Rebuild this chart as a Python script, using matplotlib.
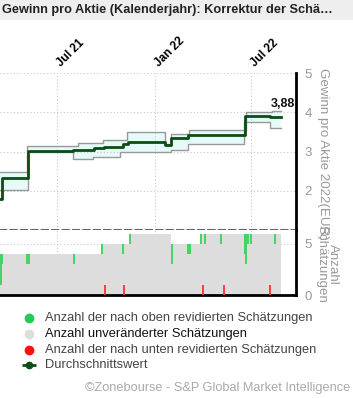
import numpy as np
import matplotlib
matplotlib.use('Agg')
import matplotlib.pyplot as plt
import matplotlib.dates as mdates
import matplotlib.transforms as mtrans
from matplotlib.patches import Rectangle

plt.rcParams['font.family'] = ['Liberation Sans', 'DejaVu Sans']

# EPS estimate 2022 (EUR): mean, high, low (change points)
avg_dates = ['2021-03-16', '2021-03-19', '2021-05-07', '2021-07-31', '2021-09-08',
             '2021-09-27', '2021-11-02', '2021-11-11', '2022-01-19', '2022-01-31',
             '2022-03-04', '2022-06-20', '2022-08-05', '2022-08-26']
avg_vals = [1.80, 2.32, 3.01, 3.04, 3.08, 3.11, 3.18, 3.23, 3.17, 3.35, 3.42, 3.91, 3.88, 3.88]

hi_dates = ['2021-03-16', '2021-05-06', '2021-08-09', '2021-09-25', '2021-11-09',
            '2022-01-20', '2022-01-31', '2022-03-06', '2022-06-22', '2022-08-09', '2022-08-26']
hi_vals = [2.49, 3.13, 3.22, 3.29, 3.50, 3.19, 3.44, 3.54, 4.00, 4.03, 4.03]

lo_dates = ['2021-03-16', '2021-05-08', '2021-07-31', '2021-09-06', '2021-10-27',
            '2022-01-31', '2022-03-04', '2022-06-18', '2022-08-05', '2022-08-26']
lo_vals = [2.03, 3.00, 2.81, 2.87, 3.00, 3.05, 3.20, 3.76, 3.60, 3.60]

# number of estimates
count_dates = ['2021-03-16', '2021-09-22', '2021-11-13', '2022-01-31', '2022-03-27', '2022-08-26']
count_vals = [4, 5, 6, 5, 6, 6]

up_dates = ['2021-03-17', '2021-03-19', '2021-05-06', '2021-05-10', '2021-08-02',
            '2021-09-23', '2021-11-02', '2021-11-15', '2022-02-02', '2022-03-04',
            '2022-03-08', '2022-03-29', '2022-04-05', '2022-05-05', '2022-06-20',
            '2022-06-21', '2022-06-25', '2022-07-01', '2022-08-15']
up_counts = [3, 1, 1, 1, 1, 1, 1, 1, 2, 1, 1, 1, 1, 1, 2, 3, 1, 1, 1]

down_dates = ['2021-09-29', '2021-11-04', '2022-04-01', '2022-05-11', '2022-08-05']
down_counts = [1, 1, 1, 1, 1]

tick_dates = ['2021-07-01', '2022-01-01', '2022-07-01']
tick_labels = ['Jul 21', 'Jan 22', 'Jul 22']

legend_labels = ['Anzahl der nach oben revidierten Schätzungen',
                 'Anzahl unveränderter Schätzungen',
                 'Anzahl der nach unten revidierten Schätzungen',
                 'Durchschnittswert']

title = 'Gewinn pro Aktie (Kalenderjahr): Korrektur der Schä…'
footer = '©Zonebourse - S&P Global Market Intelligence'


def d(s):
    return mdates.date2num(np.array(s, dtype='datetime64[D]'))


def step_at(dates, vals, at):
    return np.array(vals)[np.searchsorted(d(dates), at, side='right') - 1]


x0, x1 = d(['2021-03-16', '2022-09-23'])

W, H = 353, 398
fig = plt.figure(figsize=(W / 100, H / 100), dpi=100)


def frame(l, t, r, b):
    return [l / W, 1 - b / H, (r - l) / W, (b - t) / H]


dark = '#0b4d12'
grid_kw = dict(color='#c8c8c8', ls=(0, (1, 2)), lw=0.8)

# top panel
ax1 = fig.add_axes(frame(0, 73, 296, 230))
all_d = np.unique(np.concatenate([d(hi_dates), d(lo_dates)]))
ax1.fill_between(all_d, step_at(lo_dates, lo_vals, all_d), step_at(hi_dates, hi_vals, all_d),
                 step='post', color='#e6fafa', lw=0)
ax1.plot(d(hi_dates), hi_vals, drawstyle='steps-post', color='#999999', lw=1)
ax1.plot(d(lo_dates), lo_vals, drawstyle='steps-post', color='#999999', lw=1)
ax1.plot(d(avg_dates), avg_vals, drawstyle='steps-post', color=dark, lw=2)
ax1.annotate(f'{avg_vals[-1]:.2f}'.replace('.', ','), xy=(d(avg_dates)[-1], avg_vals[-1]),
             xytext=(1, 7), textcoords='offset points', ha='center', va='baseline',
             fontsize=9, fontweight='bold', color='#111111')
ax1.set_xlim(x0, x1)
ax1.set_ylim(1, 5)
ax1.set_yticks([2, 3, 4, 5])
ax1.set_xticks(d(tick_dates))
ax1.set_xticklabels(tick_labels)
ax1.tick_params(axis='x', top=True, labeltop=True, bottom=False, labelbottom=False, length=0, pad=3)
ax1.tick_params(axis='y', left=False, labelleft=False, right=True, labelright=True, length=0,
                pad=6, labelsize=9.5, labelcolor='#999999')
shift = mtrans.ScaledTranslation(6 / 100, 0, fig.dpi_scale_trans)
for lab in ax1.get_xticklabels():
    lab.set(rotation=45, ha='left', va='bottom', rotation_mode='anchor', fontweight='bold', fontsize=8.5)
    lab.set_transform(lab.get_transform() + shift)
ax1.grid(**grid_kw)
ax1.spines[['left', 'top']].set_visible(False)
ax1.spines['right'].set(color='black', lw=2)
ax1.spines['bottom'].set(color='#666666', lw=1.5, ls=(0, (3, 2)))

# bottom panel
ax2 = fig.add_axes(frame(0, 230, 296, 295))
ax2.set_axisbelow(True)
ax2.fill_between(d(count_dates), 0, count_vals, step='post', facecolor='#dddddd',
                 edgecolor='none', lw=0)
tot_up = step_at(count_dates, count_vals, d(up_dates))
ax2.vlines(d(up_dates), tot_up - np.array(up_counts), tot_up, colors='#3ad35a', lw=1.3, zorder=3)
ax2.vlines(d(down_dates), 0, down_counts, colors='#ff3030', lw=1.3, zorder=3)
ax2.set_xlim(x0, x1)
ax2.set_ylim(0, 6.35)
ax2.set_yticks([0, 5])
ax2.set_xticks(d(tick_dates))
ax2.tick_params(axis='x', bottom=False, labelbottom=False, length=0)
ax2.tick_params(axis='y', left=False, labelleft=False, right=True, labelright=True, length=0,
                pad=6, labelsize=9.5, labelcolor='#999999')
ax2.grid(**grid_kw)
ax2.spines[['left', 'top']].set_visible(False)
ax2.spines['right'].set(color='black', lw=2)
ax2.spines['bottom'].set(color='black', lw=2)

# overlay in pixel coordinates for texts and legend
ov = fig.add_axes([0, 0, 1, 1], zorder=10)
ov.set_xlim(0, W)
ov.set_ylim(H, 0)
ov.axis('off')
ov.patch.set_alpha(0)
ov.add_patch(Rectangle((0, 0), W, 20, color='#eeeeee', lw=0))
ov.text(2, 10, title, fontsize=9.2, fontweight='bold', color='#222222', va='center', ha='left')
ov.text(323, 154, 'Gewinn pro Aktie 2022(EUR)', rotation=270, fontsize=9.6, color='#999999',
        ha='center', va='center')
ov.text(327, 264, 'Anzahl\nSchätzungen', rotation=270, fontsize=9.6, color='#999999',
        ha='center', va='center', linespacing=1.0)

leg_colors = ['#22cc55', '#dddddd', '#ff1010']
leg_y = [318, 334, 350, 365]
for c, y in zip(leg_colors, leg_y[:3]):
    ov.plot([29], [y], 'o', color=c, ms=6)
ov.plot([22, 36], [leg_y[3], leg_y[3]], ls=(0, (2, 1.5)), color=dark, lw=2)
ov.plot([29], [leg_y[3]], 'o', color=dark, ms=4.5)
for lab, y, c in zip(legend_labels, leg_y, ['#444444', '#111111', '#444444', '#444444']):
    ov.text(45, y, lab, fontsize=9.3, color=c, va='center', ha='left')

ov.text(350, 388, footer, fontsize=9.2, color='#aaaaaa', ha='right', va='center')

fig.savefig('out.png', dpi=100)
